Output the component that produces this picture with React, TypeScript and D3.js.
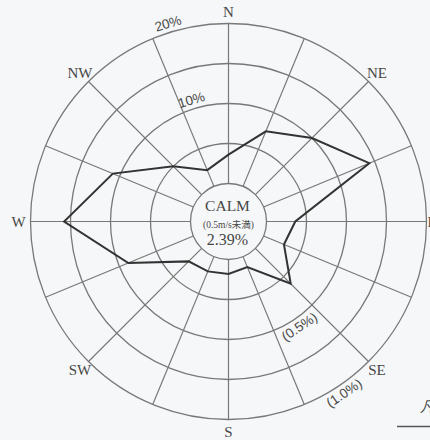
import React, { useEffect } from "react";
import * as d3 from "d3";

// 16 wind directions, clockwise from north
const directions = ["N", "NNE", "NE", "ENE", "E", "ESE", "SE", "SSE", "S", "SSW", "SW", "WSW", "W", "WNW", "NW", "NNW"];
// frequency of wind per direction (%)
const frequency = [3.6, 7.45, 10.0, 14.3, 3.6, 2.75, 6.25, 1.4, 1.8, 2.0, 2.3, 8.8, 15.8, 10.9, 5.0, 2.2];
const labelledDirections = ["N", "NE", "E", "SE", "S", "SW", "W", "NW"];
const ringValues = [5, 10, 15, 20];
const freqTicks = [10, 20];
const freqTickLabels = ["10%", "20%"];
const speedTickLabels = ["(0.5%)", "(1.0%)"];
const calmLines = ["CALM", "(0.5m/s未満)", "2.39%"];
const legendTitle = "凡例";

const W = 430;
const H = 440;
const cx = 228.5;
const cy = 221.5;

export default function App() {
    useEffect(() => {
        document.body.style.margin = "0";
    }, []);

    const r = d3.scaleLinear().domain([0, 20]).range([38, 198]);
    const angle = d3.scaleLinear().domain([0, directions.length]).range([0, 2 * Math.PI]);

    const polar = (a: number, rad: number): [number, number] => [
        Math.sin(a) * rad,
        -Math.cos(a) * rad,
    ];

    const rose = d3.lineRadial<number>()
        .angle((_, i) => angle(i))
        .radius(d => r(d))
        .curve(d3.curveLinearClosed);

    const gridColor = "#787878";
    const textColor = "#474747";
    const serif = "'Liberation Serif', 'DejaVu Serif', 'Noto Sans CJK JP', serif";
    const sans = "'Liberation Sans', Arial, sans-serif";

    const topAngle = -17;
    const bottomAngle = 146;

    return (
        <div style={{ width: W, height: H }}>
            <svg width={W} height={H} style={{ display: "block", background: "#f6f7f8" }}>
                <g transform={`translate(${cx},${cy})`}>
                    {/* spokes */}
                    {directions.map((d, i) => {
                        const [x1, y1] = polar(angle(i), r(0));
                        const [x2, y2] = polar(angle(i), r(20));
                        return (
                            <line key={d} x1={x1} y1={y1} x2={x2} y2={y2}
                                stroke={gridColor} strokeWidth={1.2} />
                        );
                    })}
                    {/* rings */}
                    <circle r={r(0)} fill="none" stroke={gridColor} strokeWidth={1.3} />
                    {ringValues.map(v => (
                        <circle key={v} r={r(v)} fill="none" stroke={gridColor} strokeWidth={1.3} />
                    ))}

                    {/* frequency polygon */}
                    <path d={rose(frequency) || ""} fill="none" stroke="#333" strokeWidth={2}
                        strokeLinejoin="miter" />

                    {/* direction labels */}
                    {directions.map((d, i) => {
                        if (!labelledDirections.includes(d)) return null;
                        const isEast = d === "E";
                        const [x, y] = polar(angle(i), isEast ? r(20) + 1 : r(20) + 12);
                        return (
                            <text key={d} x={x} y={y} textAnchor={isEast ? "start" : "middle"}
                                dominantBaseline="central" fontFamily={serif} fontSize={15}
                                fill={textColor}>{d}</text>
                        );
                    })}

                    {/* frequency scale labels */}
                    {freqTicks.map((v, i) => {
                        const [x, y] = polar(topAngle * Math.PI / 180, r(v) + 9);
                        return (
                            <text key={v} x={x} y={y} textAnchor="middle" dominantBaseline="central"
                                transform={`rotate(${topAngle},${x},${y})`}
                                fontFamily={sans} fontSize={13.5} fill={textColor}>{freqTickLabels[i]}</text>
                        );
                    })}

                    {/* wind speed scale labels */}
                    {freqTicks.map((v, i) => {
                        const [x, y] = polar(bottomAngle * Math.PI / 180, r(v) + 9);
                        return (
                            <text key={v} x={x} y={y} textAnchor="middle" dominantBaseline="central"
                                transform={`rotate(${bottomAngle - 180},${x},${y})`}
                                fontFamily={sans} fontSize={13.5} fill={textColor}>{speedTickLabels[i]}</text>
                        );
                    })}

                    {/* calm */}
                    <text x={-1} y={-11} textAnchor="middle" fontFamily={serif} fontSize={15.5}
                        fill={textColor}>{calmLines[0]}</text>
                    <text x={0} y={6} textAnchor="middle" fontFamily={serif} fontSize={9.5}
                        fill={textColor}>{calmLines[1]}</text>
                    <text x={-1} y={23.5} textAnchor="middle" fontFamily={serif} fontSize={16}
                        fill={textColor}>{calmLines[2]}</text>
                </g>

                {/* legend (cut off at the edge, as in the source) */}
                <text x={420} y={412} fontFamily={serif} fontSize={15} fontStyle="italic"
                    fill={textColor}>{legendTitle}</text>
                <line x1={397} y1={426.5} x2={W} y2={426.5} stroke="#555" strokeWidth={1.5} />
            </svg>
        </div>
    );
}
